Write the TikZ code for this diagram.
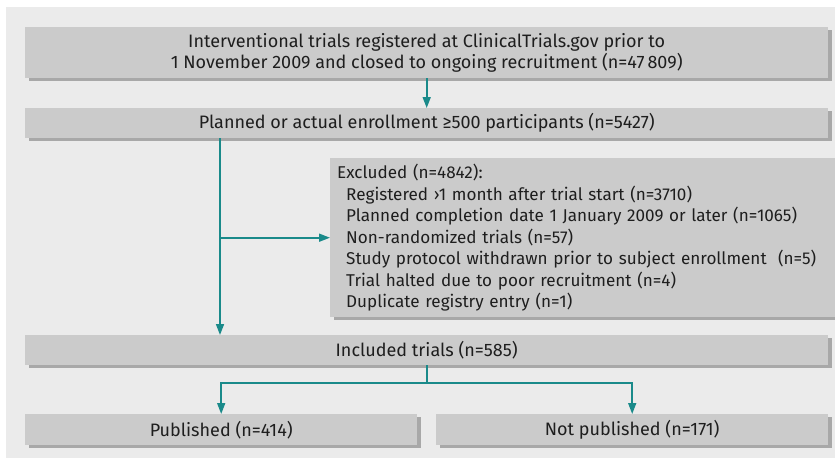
\documentclass[tikz,border=0pt]{standalone}
\usepackage{fontspec}
\setmainfont{Fira Sans}
\usetikzlibrary{arrows.meta,shadows}
\definecolor{bgc}{HTML}{EBEBEB}
\definecolor{boxc}{HTML}{CBCBCB}
\definecolor{shc}{HTML}{A8A8A8}
\definecolor{tealc}{HTML}{1A8A8A}
\definecolor{txtc}{HTML}{1E1E1E}
\begin{document}
\begin{tikzpicture}[x=1pt,y=-1pt,
  box/.style={fill=boxc, draw=none, anchor=north west, inner sep=0pt, text=txtc,
    font=\fontsize{18}{21}\selectfont, align=center,
    drop shadow={shadow xshift=4pt,shadow yshift=-3pt,fill=shc,opacity=1}},
  conn/.style={draw=tealc, line width=1.6pt},
  arr/.style={conn, -{Triangle[length=11pt,width=8pt]}}]
\useasboundingbox (0,0) rectangle (835,458);
\fill[bgc] (6,7) rectangle (835,458);
\node[box, minimum width=803pt, minimum height=51pt] (n1) at (25,27)
  {Interventional trials registered at ClinicalTrials.gov prior to\\1 November 2009 and closed to ongoing recruitment (n=47\,809)};
\node[box, minimum width=803pt, minimum height=30pt] (n2) at (25,108)
  {Planned or actual enrollment ≥500 participants (n=5427)};
\node[box, minimum width=498pt, minimum height=159pt, text width=492pt, align=left,
  font=\fontsize{17.1}{21.5}\selectfont, inner xsep=7pt] (ex) at (330,158)
  {Excluded (n=4842):\\
   \hspace*{9pt}Registered ›1 month after trial start (n=3710)\\
   \hspace*{9pt}Planned completion date 1 January 2009 or later (n=1065)\\
   \hspace*{9pt}Non-randomized trials (n=57)\\
   \hspace*{9pt}Study protocol withdrawn prior to subject enrollment\ \ (n=5)\\
   \hspace*{9pt}Trial halted due to poor recruitment (n=4)\\
   \hspace*{9pt}Duplicate registry entry (n=1)};
\node[box, minimum width=803pt, minimum height=30pt] (inc) at (25,335)
  {Included trials (n=585)};
\node[box, minimum width=392pt, minimum height=31pt] (pub) at (25,414)
  {Published (n=414)};
\node[box, minimum width=392pt, minimum height=31pt] (np) at (436,414)
  {Not published (n=171)};
\coordinate (v) at (220,0);
\coordinate (split) at (0,383);
\draw[arr] (n1.south) -- (n2.north);
\draw[arr] (n2.south -| v) -- (inc.north -| v);
\draw[arr] (v |- ex.west) -- (ex.west);
\draw[conn] (inc.south) -- (inc.south |- split);
\draw[arr] (inc.south |- split) -| (pub.north);
\draw[arr] (inc.south |- split) -| (np.north);
\end{tikzpicture}
\end{document}
